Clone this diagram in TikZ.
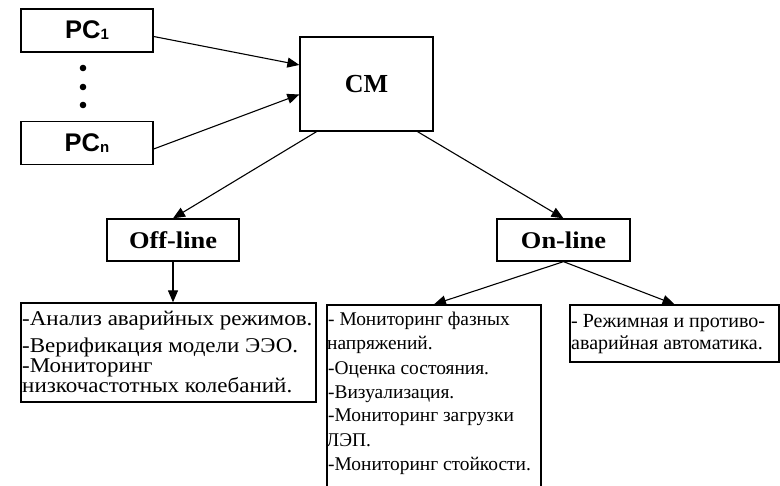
\documentclass[tikz,border=0pt]{standalone}
\usepackage{fontspec}
\setmainfont{Liberation Serif}
\newfontfamily\pcfont{Liberation Sans}
\usetikzlibrary{arrows.meta,calc}
\usepackage{graphicx}
% horizontally widened text
\newcommand\widetext[2]{\scalebox{#1}[1]{#2}}

\begin{document}
\begin{tikzpicture}[x=1pt,y=-1pt,
  box/.style={draw, line width=1.3pt, inner sep=0pt, rectangle},
  conn/.style={line width=1.1pt, -{Triangle[length=12pt,width=10pt]}},
  item/.style={anchor=base west, inner sep=0pt, font=\fontsize{21}{21}\selectfont},
  sitem/.style={anchor=base west, inner sep=0pt, font=\fontsize{19.4}{19.4}\selectfont},
  ritem/.style={anchor=base west, inner sep=0pt, font=\fontsize{20}{20}\selectfont},
  head/.style={font=\bfseries\fontsize{24}{24}\selectfont},
  pc/.style={box, minimum width=132pt, minimum height=43pt,
    font=\pcfont\bfseries\fontsize{25.5}{25.5}\selectfont}]

\clip (0,0) rectangle (780,486);

% sources
\node[pc] (pc1) at (87,30.5) {PC\raisebox{-1pt}{\fontsize{15}{15}\selectfont 1}};
\node[pc] (pcn) at (87,143) {PC\raisebox{-1pt}{\fontsize{15}{15}\selectfont n}};
\foreach \yy in {68,87,105} \fill (83,\yy) circle (3.3pt);

% central module
\node[box, minimum width=133pt, minimum height=94pt,
  font=\bfseries\fontsize{26}{26}\selectfont] (cm) at (366.5,84) {CM};

% modes
\node[box, head, minimum width=132pt, minimum height=42pt] (off) at (173,240) {\widetext{1.1}{Off-line}};
\node[box, head, minimum width=133pt, minimum height=42pt] (on) at (563.5,240) {\widetext{1.1}{On-line}};

% task lists
\node[box, minimum width=295pt, minimum height=99pt] (lbox) at (168.5,352.5) {};
\node[box, minimum width=214pt, minimum height=195pt] (mbox) at (434,402.5) {};
\node[box, minimum width=209pt, minimum height=57pt] (rbox) at (674.5,333.5) {};

\node[item] (l1) at (22,326) {\widetext{1.095}{-Анализ аварийных режимов.}};
\node[item] (l2) at (22,353) {\widetext{1.095}{-Верификация модели ЭЭО.}};
\node[item] (l3) at (22,373) {\widetext{1.095}{-Мониторинг}};
\node[item] (l4) at (22,393) {\widetext{1.095}{низкочастотных колебаний.}};

\node[sitem] (m1) at (328,326) {- Мониторинг фазных};
\node[sitem] (m2) at (327,350) {напряжений.};
\node[sitem] (m3) at (328,375) {-Оценка состояния.};
\node[sitem] (m4) at (328,399) {-Визуализация.};
\node[sitem] (m5) at (328,422) {-Мониторинг загрузки};
\node[sitem] (m6) at (326,447) {ЛЭП.};
\node[sitem] (m7) at (328,471) {-Мониторинг стойкости.};

\node[ritem] (r1) at (571,328) {- Режимная и противо-};
\node[ritem] (r2) at (571,350) {аварийная автоматика.};

% connectors
\draw[conn] ($(pc1.east)+(0,6)$) -- ($(cm.north west)!0.3!(cm.south west)$);
\draw[conn] ($(pcn.east)+(0,6)$) -- ($(cm.north west)!0.61!(cm.south west)$);
\draw[conn] ($(cm.south west)!0.128!(cm.south east)$) -- (off.north);
\draw[conn] ($(cm.south west)!0.88!(cm.south east)$) -- (on.north);
\draw[conn] (off.south) -- (off.south |- lbox.north);
\draw[conn] (on.south) -- (mbox.north);
\draw[conn] (on.south) -- (rbox.north);
\end{tikzpicture}
\end{document}
